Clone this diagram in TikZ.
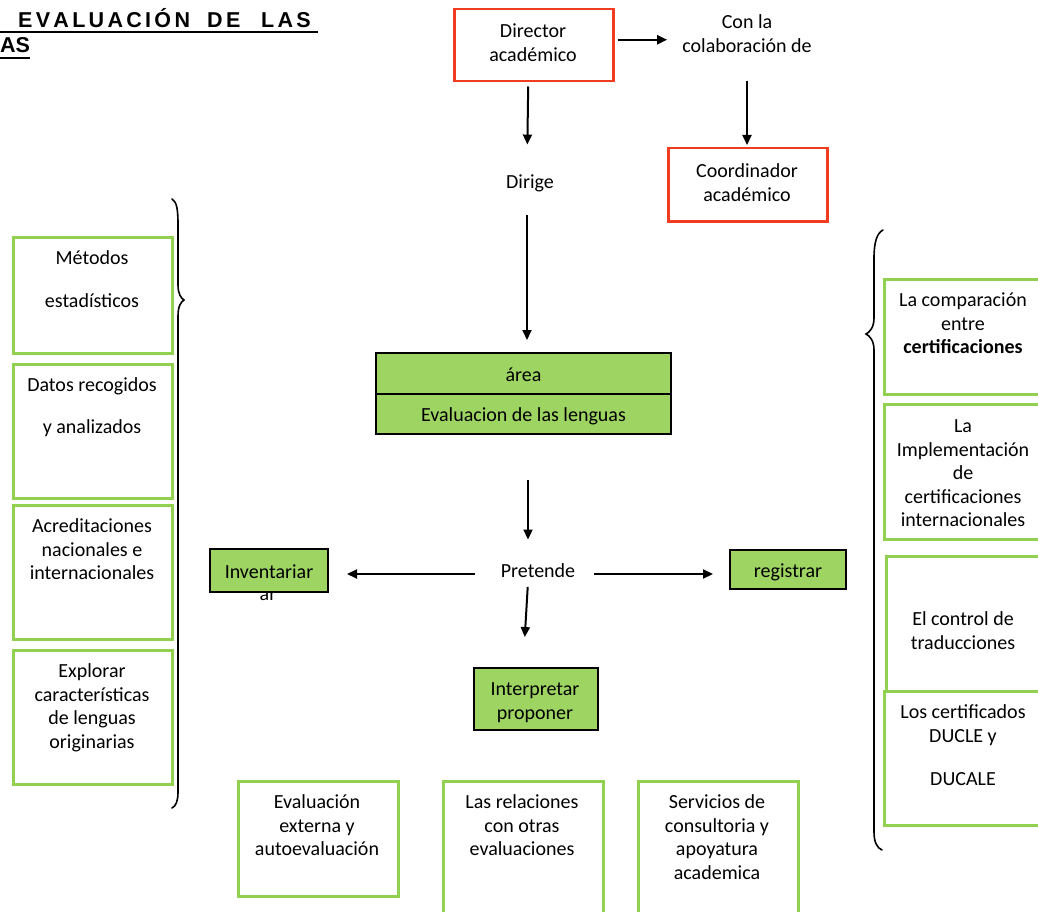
\documentclass[tikz,border=0pt]{standalone}
\usepackage{fontspec}
\setmainfont{Carlito}
\newfontfamily\titlefont{Liberation Sans}
\usetikzlibrary{arrows.meta}

\definecolor{boxred}{RGB}{240,60,32}
\definecolor{boxgreen}{RGB}{146,208,80}
\definecolor{fillgreen}{RGB}{158,213,98}

% letter spacing for the heading
\newcommand\sk{\kern3.3pt}
\newcommand\headfont{\titlefont\bfseries\fontsize{21.5}{25}\selectfont}

\tikzset{
  redbox/.style={draw=boxred, line width=2.5pt, inner sep=0pt, anchor=north west},
  greenbox/.style={draw=boxgreen, line width=2.5pt, inner sep=0pt, anchor=north west},
  fillbox/.style={draw=black, line width=2pt, fill=fillgreen, inner sep=0pt, anchor=north west,
    text height=19.45pt, text depth=4.05pt},
  plainfill/.style={draw=black, line width=2pt, fill=fillgreen, inner sep=0pt, anchor=north west},
  txt/.style={inner sep=0pt, align=center, anchor=north},
  txtc/.style={inner sep=0pt, text height=19.45pt, text depth=4.05pt},
  titletext/.style={inner sep=0pt, anchor=base west},
  arr/.style={line width=2pt, -{Triangle[length=10pt,width=9pt]}},
  bracestroke/.style={line width=1.6pt, line cap=round}
}

\begin{document}
\begin{tikzpicture}[x=1pt, y=-1pt, font=\fontsize{20}{23.5}\selectfont]
\useasboundingbox (0,0) rectangle (1038,912);
\clip (0,0) rectangle (1038,912);

% heading
\node[titletext] (tA) at (18,28) {\headfont E\sk V\sk A\sk L\sk U\sk A\sk C\sk I\sk Ó\sk N};
\node[titletext] (tB) at (207,28) {\headfont D\sk E};
\node[titletext] (tC) at (261,28) {\headfont L\sk A\sk S};
\node[titletext] (tD) at (0,53) {\headfont AS};
\draw[line width=2pt] (0,32.5) -- (318,32.5);
\draw[line width=2pt] (0,58) -- (30,58);

% top: director and coordinator
\node[redbox, minimum width=159pt, minimum height=72pt] (dir) at (453,8) {};
\node[txt] (dirt) at (533,21.25) {\strut Director\\\strut académico};
\node[txt] (conla) at (747,12.25) {\strut Con la\\\strut colaboración de};
\node[redbox, minimum width=159pt, minimum height=73pt] (coord) at (667,147) {};
\node[txt] (coordt) at (747,161.25) {\strut Coordinador\\\strut académico};
\node[txtc] (dirige) at (530,181) {Dirige};

% central area box
\node[fillbox, minimum width=295pt, minimum height=41pt] (area) at (375,352) {área};
\node[fillbox, minimum width=295pt, minimum height=40pt] (areab) at (375,393) {Evaluacion de las lenguas};

\node[txtc] (pret) at (538,570) {Pretende};

% "ar" sits under the Inventariar box
\node[inner sep=0pt, anchor=base] (invar) at (268,600) {ar};
\node[fillbox, minimum width=118pt, minimum height=43pt] (inv) at (209,548) {Inventariar};
\node[fillbox, minimum width=116pt, minimum height=39pt] (reg) at (729,549) {registrar};
\node[plainfill, minimum width=124pt, minimum height=62pt] (interp) at (473,667) {};
\node[txt] (interpt) at (535,679.25) {\strut Interpretar\\\strut proponer};

% arrows
\draw[arr, shorten <=3pt, shorten >=15pt] ([yshift=5.5]dir.east) -- ([yshift=5.5]dir.east -| conla.west);
\draw[arr, shorten <=21pt, shorten >=2pt] (conla.south) -- (coord.north -| conla.south);
\draw[arr, shorten <=4pt, shorten >=24.5pt] ([xshift=-5.5]dir.south) -- ([xshift=-3]dirige.north);
\draw[arr, shorten <=22pt, shorten >=12pt] ([xshift=-3]dirige.south) -- ([xshift=-3]dirige.south |- area.north);
\draw[arr, shorten <=45pt, shorten >=18.5pt] ([xshift=4.5]areab.south) -- ([xshift=4.5]areab.south |- pret.north);
\draw[arr, shorten <=26pt, shorten >=18pt] ([yshift=-4]pret.west) -- ([yshift=-4]pret.west -| inv.east);
\draw[arr, shorten <=19pt, shorten >=16pt] ([yshift=-4]pret.east) -- ([yshift=-4]pret.east -| reg.west);
\draw[arr, shorten <=5pt, shorten >=30pt] ([xshift=-10]pret.south) -- ([xshift=-13]interp.north);

% bottom boxes
\node[greenbox, minimum width=160pt, minimum height=115pt] (b1) at (237,780) {};
\node[txt] (b1t) at (317,792.25) {\strut Evaluación\\\strut externa y\\\strut autoevaluación};
\node[greenbox, minimum width=160pt, minimum height=140pt] (b2) at (442,780) {};
\node[txt] (b2t) at (522,792.25) {\strut Las relaciones\\\strut con otras\\\strut evaluaciones};
\node[greenbox, minimum width=160pt, minimum height=140pt] (b3) at (637,780) {};
\node[txt] (b3t) at (717,792.25) {\strut Servicios de\\\strut consultoria y\\\strut apoyatura\\\strut academica};

% left column
\node[greenbox, minimum width=159pt, minimum height=116pt] (l1) at (12,236) {};
\node[txt] (l1t) at (92,248.25) {\strut Métodos\\[19.5pt]\strut estadísticos};
\node[greenbox, minimum width=159pt, minimum height=134pt] (l2) at (12,363) {};
\node[txt] (l2t) at (92,375.25) {\strut Datos recogidos\\[18.5pt]\strut y analizados};
\node[greenbox, minimum width=159pt, minimum height=134pt] (l3) at (12,504) {};
\node[txt] (l3t) at (92,516.25) {\strut Acreditaciones\\\strut nacionales e\\\strut internacionales};
\node[greenbox, minimum width=159pt, minimum height=134pt] (l4) at (12,649) {};
\node[txt] (l4t) at (92,661.25) {\strut Explorar\\\strut características\\\strut de lenguas\\\strut originarias};

% right column
\node[greenbox, minimum width=162pt, minimum height=115pt] (r1) at (883,278) {};
\node[txt] (r1t) at (963,290.25) {\strut La comparación\\\strut entre\\\strut \textbf{certificaciones}};
\node[greenbox, minimum width=162pt, minimum height=135pt] (r2) at (883,403) {};
\node[txt] (r2t) at (963,416.25) {\strut La\\\strut Implementación\\\strut de\\\strut certificaciones\\\strut internacionales};
\node[greenbox, minimum width=160pt, minimum height=135pt] (r3) at (885,555) {};
\node[txt] (r3t) at (963,609.25) {\strut El control de\\\strut traducciones};
\node[greenbox, minimum width=162pt, minimum height=134pt] (r4) at (883,690) {};
\node[txt] (r4t) at (963,702.25) {\strut Los certificados\\\strut DUCLE y\\[19.5pt]\strut DUCALE};

% braces
\draw[bracestroke] (172,199) .. controls (177,202) and (178,210) .. (178,225)
  -- (178,285) .. controls (178,294) and (181,298) .. (184,300)
  .. controls (181,302) and (178,306) .. (178,316)
  -- (178,792) .. controls (178,801) and (176,806) .. (172,808);
\draw[bracestroke] (883,230) .. controls (877,233) and (874,242) .. (874,258)
  -- (874,318) .. controls (874,327) and (870,332) .. (866,334)
  .. controls (870,336) and (874,341) .. (874,350)
  -- (874,832) .. controls (874,842) and (877,848) .. (882,850);
\end{tikzpicture}
\end{document}
